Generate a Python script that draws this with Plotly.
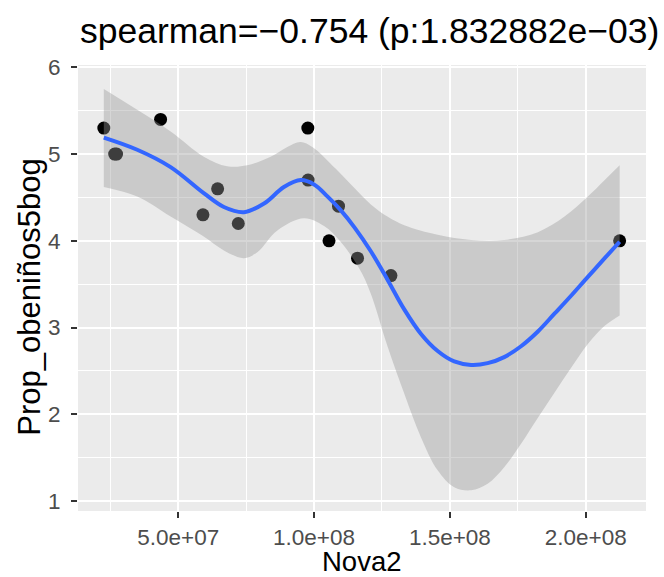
import plotly.graph_objects as go

# ---- data ----
nova2 = [2.26e7, 2.66e7, 2.73e7, 4.35e7, 5.91e7, 6.45e7, 7.21e7, 9.77e7, 9.78e7,
         1.055e8, 1.09e8, 1.16e8, 1.283e8, 2.125e8]
prop = [5.3, 5.0, 5.0, 5.4, 4.3, 4.6, 4.2, 5.3, 4.7, 4.0, 4.4, 3.8, 3.6, 4.0]

smooth_x = [2.26e7, 3.49e7, 4.72e7, 5.94e7, 6.68e7, 7.42e7, 8.16e7, 8.89e7, 9.51e7,
            1.0e8, 1.05e8, 1.098e8, 1.15e8, 1.209e8, 1.271e8, 1.332e8, 1.393e8,
            1.455e8, 1.516e8, 1.578e8, 1.639e8, 1.70e8, 1.762e8, 1.824e8, 1.885e8,
            1.947e8, 2.008e8, 2.07e8, 2.125e8]
smooth_y = [5.19, 5.05, 4.85, 4.55, 4.39, 4.33, 4.43, 4.62, 4.70, 4.65, 4.51, 4.354,
            4.15, 3.88, 3.55, 3.21, 2.93, 2.73, 2.61, 2.57, 2.59, 2.66, 2.785, 2.955,
            3.16, 3.37, 3.585, 3.80, 3.99]

upper_x = [2.26e7, 3.49e7, 4.72e7, 5.94e7, 6.8e7, 7.54e7, 8.4e7, 9.0e7, 9.5e7, 9.95e7,
           1.08e8, 1.145e8, 1.209e8, 1.27e8, 1.332e8, 1.455e8, 1.578e8, 1.70e8,
           1.824e8, 1.922e8, 2.008e8, 2.07e8, 2.125e8]
upper_y = [5.75, 5.51, 5.26, 4.97, 4.86, 4.87, 4.97, 5.08, 5.14, 5.08, 4.83, 4.62,
           4.42, 4.28, 4.18, 4.07, 4.01, 4.01, 4.10, 4.28, 4.51, 4.70, 4.87]

lower_x = [2.26e7, 3.49e7, 4.72e7, 5.94e7, 6.68e7, 7.42e7, 7.91e7, 8.65e7, 9.63e7,
           1.037e8, 1.10e8, 1.172e8, 1.209e8, 1.271e8, 1.332e8, 1.393e8, 1.455e8,
           1.516e8, 1.578e8, 1.639e8, 1.70e8, 1.762e8, 1.824e8, 1.885e8, 1.947e8,
           2.008e8, 2.07e8, 2.125e8]
lower_y = [4.62, 4.51, 4.28, 4.05, 3.89, 3.80, 3.87, 4.12, 4.26, 4.17, 3.98, 3.65,
           3.39, 2.78, 2.24, 1.74, 1.355, 1.16, 1.125, 1.20, 1.39, 1.66, 1.96, 2.25,
           2.54, 2.81, 3.02, 3.14]

x_tickvals = [5e7, 1e8, 1.5e8, 2e8]
x_ticktext = ["5.0e+07", "1.0e+08", "1.5e+08", "2.0e+08"]
x_minor = [2.5e7, 7.5e7, 1.25e8, 1.75e8]
y_tickvals = [1, 2, 3, 4, 5, 6]
y_ticktext = ["1", "2", "3", "4", "5", "6"]
y_minor = [1.5, 2.5, 3.5, 4.5, 5.5]

title_text = "spearman=\u22120.754 (p:1.832882e\u221203)"
x_title = "Nova2"
y_title = "Prop_obeniños5bog"

FONT = "Liberation Sans, Arial, sans-serif"

fig = go.Figure()
fig.add_trace(go.Scatter(x=nova2, y=prop, mode="markers",
                         marker=dict(color="black", size=13, line=dict(width=0)),
                         hoverinfo="skip"))
fig.add_trace(go.Scatter(x=lower_x, y=lower_y, mode="lines",
                         line=dict(width=0, shape="spline", smoothing=1.0),
                         hoverinfo="skip"))
fig.add_trace(go.Scatter(x=upper_x, y=upper_y, mode="lines", fill="tonexty",
                         fillcolor="rgba(153,153,153,0.4)",
                         line=dict(width=0, shape="spline", smoothing=1.0),
                         hoverinfo="skip"))
fig.add_trace(go.Scatter(x=smooth_x, y=smooth_y, mode="lines",
                         line=dict(color="#3366FF", width=4, shape="spline", smoothing=1.0),
                         hoverinfo="skip"))

axis_common = dict(showline=False, zeroline=False, ticks="outside", ticklen=6,
                   tickwidth=1.5, tickcolor="#333333", gridcolor="white", gridwidth=2,
                   tickfont=dict(family=FONT, size=22.5, color="#4D4D4D"))

fig.update_xaxes(range=[1.31e7, 2.222e8], tickmode="array", tickvals=x_tickvals,
                 ticktext=x_ticktext,
                 minor=dict(tickmode="array", tickvals=x_minor, showgrid=True,
                            gridcolor="white", gridwidth=1),
                 **axis_common)
fig.update_yaxes(range=[0.886, 6.027], tickmode="array", tickvals=y_tickvals,
                 ticktext=y_ticktext, ticklabelstandoff=6,
                 minor=dict(tickmode="array", tickvals=y_minor, showgrid=True,
                            gridcolor="white", gridwidth=1),
                 **axis_common)

fig.update_layout(
    width=664, height=577,
    margin=dict(l=78, r=18, t=65, b=66, autoexpand=False),
    plot_bgcolor="#EBEBEB", paper_bgcolor="white",
    showlegend=False,
    font=dict(family=FONT, color="black"),
    annotations=[
        dict(text=title_text, xref="paper", yref="paper", x=0.0, y=1.0763,
             xanchor="left", yanchor="middle", showarrow=False,
             font=dict(family=FONT, size=35.5, color="black")),
        dict(text=x_title, xref="paper", yref="paper", x=0.5, y=-0.1129,
             xanchor="center", yanchor="middle", showarrow=False,
             font=dict(family=FONT, size=27.5, color="black")),
        dict(text=y_title, xref="paper", yref="paper", x=-0.0852, y=0.4795,
             xanchor="center", yanchor="middle", textangle=-90, showarrow=False,
             font=dict(family=FONT, size=31, color="black")),
    ],
)

fig.write_html("out.html")
